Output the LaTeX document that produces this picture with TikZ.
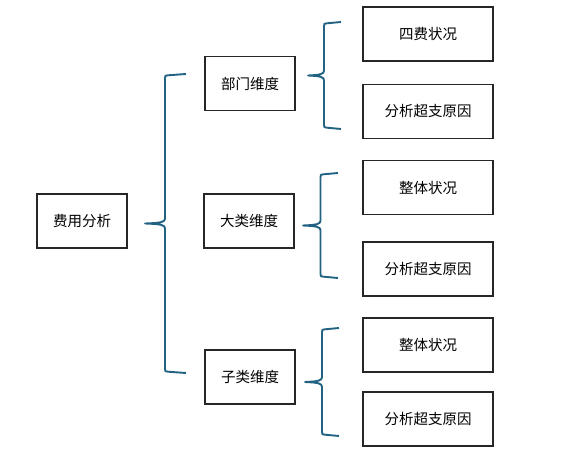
\documentclass[tikz,border=0pt]{standalone}
\usepackage{fontspec}
\setmainfont{Noto Sans CJK SC}
\usetikzlibrary{calc}
\definecolor{bracecol}{RGB}{34,98,130}

% curly bracket: top end, bottom end, tip, depth of the ends
\newcommand{\curly}[4]{%
  \draw[brace style] (#1) -- ($(#1)+(-#4+3,1.3)$) .. controls ($(#1)+(-#4,1.5)$) .. ($(#1)+(-#4,4.5)$)
    -- ($(#3-|#1)+(-#4,-5)$) .. controls ($(#3-|#1)+(-#4,-1.5)$) and ($(#3-|#1)+(-#4-3,-0.6)$) .. (#3)
    .. controls ($(#3-|#1)+(-#4-3,0.6)$) and ($(#3-|#1)+(-#4,1.5)$) .. ($(#3-|#1)+(-#4,5)$)
    -- ($(#2)+(-#4,-4.5)$) .. controls ($(#2)+(-#4,-1.5)$) .. ($(#2)+(-#4+3,-1.3)$) -- (#2);}

\begin{document}
\begin{tikzpicture}[
    x=1pt, y=-1pt,
    box style/.style={draw=black!85, line width=1.6pt, minimum height=54pt,
        inner sep=0pt, font=\fontsize{14.5}{17}\selectfont},
    root style/.style={box style, minimum width=90pt},
    mid style/.style={box style, minimum width=90pt},
    leaf style/.style={box style, minimum width=130pt},
    brace style/.style={draw=bracecol, line width=1.9pt, line join=round}
]

% FIXED BOUNDING BOX
\path[use as bounding box] (0,0) rectangle (570,465);

\node[root style] (fy) at (82, 221) {费用分析};

\node[mid style] (bm) at (250, 83.5) {部门维度};
\node[mid style] (dl) at (249, 221)  {大类维度};
\node[mid style] (zl) at (250, 377)  {子类维度};

\node[leaf style] (bmA) at (428, 34)    {四费状况};
\node[leaf style] (bmB) at (428, 111.5) {分析超支原因};
\node[leaf style] (dlA) at (428, 187.5) {整体状况};
\node[leaf style] (dlB) at (428, 269)   {分析超支原因};
\node[leaf style] (zlA) at (428, 345)   {整体状况};
\node[leaf style] (zlB) at (428, 419)   {分析超支原因};

% bracket ends and tips
\coordinate (fyT) at (186, 74);  \coordinate (fyB) at (186, 373);  \coordinate (fyP) at (145, 223.5);
\coordinate (bmT) at (341, 22);  \coordinate (bmB) at (341, 129);  \coordinate (bmP) at (308, 75.5);
\coordinate (dlT) at (338, 173); \coordinate (dlB) at (338, 278);  \coordinate (dlP) at (303, 225.5);
\coordinate (zlT) at (339, 328); \coordinate (zlB) at (339, 436);  \coordinate (zlP) at (305, 382);

\curly{fyT}{fyB}{fyP}{21}
\curly{bmT}{bmB}{bmP}{17}
\curly{dlT}{dlB}{dlP}{17.5}
\curly{zlT}{zlB}{zlP}{17}

\end{tikzpicture}
\end{document}
